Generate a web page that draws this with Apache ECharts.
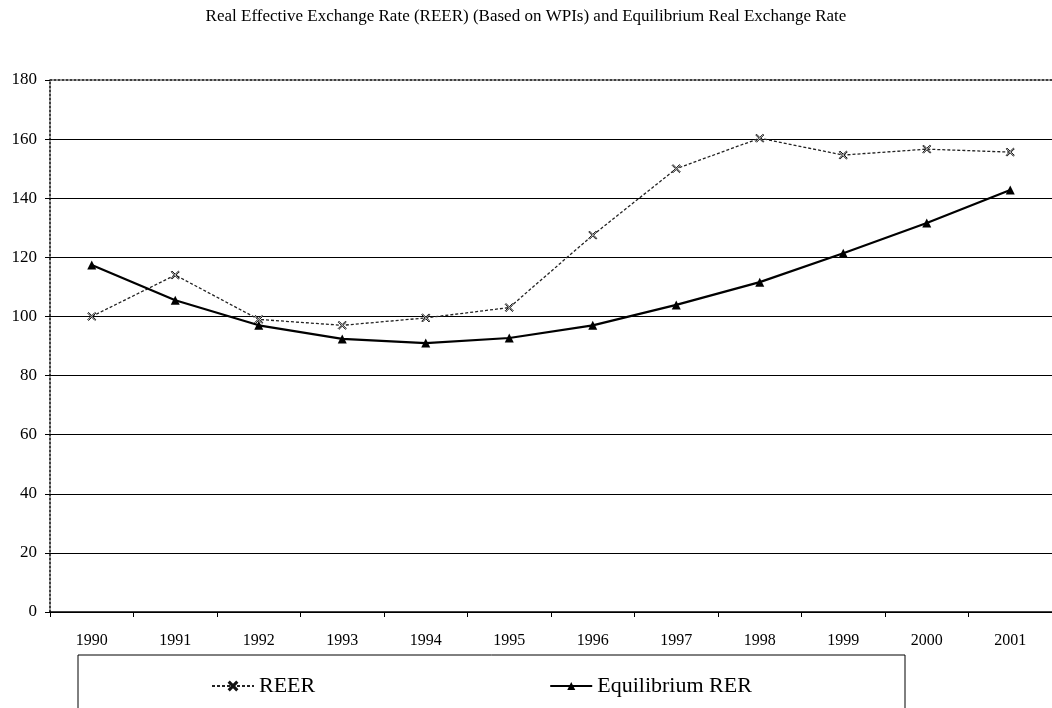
<!DOCTYPE html>
<html>
<head>
<meta charset="utf-8">
<script src="https://cdn.jsdelivr.net/npm/echarts@6/dist/echarts.min.js"></script>
<style>
html,body{margin:0;padding:0;background:#fff;}
#chart{width:1052px;height:708px;}
</style>
</head>
<body>
<div id="chart"></div>
<script>
const titleText = 'Real Effective Exchange Rate (REER) (Based on WPIs) and Equilibrium Real Exchange Rate';
const years = ['1990','1991','1992','1993','1994','1995','1996','1997','1998','1999','2000','2001'];
const reer = [100, 114, 99, 97, 99.5, 103, 127.5, 150, 160.3, 154.6, 156.6, 155.6];
const equilibriumRer = [117.4, 105.5, 97, 92.4, 91, 92.7, 97, 103.9, 111.6, 121.4, 131.6, 142.8];
const seriesNames = ['REER', 'Equilibrium RER'];

const serif = '"Liberation Serif", "DejaVu Serif", serif';
const chart = echarts.init(document.getElementById('chart'), null, {renderer: 'canvas'});
const xShape = 'path://M0,1L1,0L5,4L9,0L10,1L6,5L10,9L9,10L5,6L1,10L0,9L4,5Z';

chart.setOption({
  animation: false,
  backgroundColor: '#fff',
  title: {
    text: titleText,
    left: 'center',
    top: 3,
    textStyle: {fontFamily: serif, fontSize: 17, fontWeight: 'normal', color: '#000'}
  },
  graphic: [{
    type: 'rect',
    shape: {x: 78, y: 655, width: 827, height: 70},
    style: {fill: 'none', stroke: '#000', lineWidth: 1},
    silent: true
  }],
  legend: {
    left: 206,
    top: 670,
    itemWidth: 42,
    itemHeight: 10,
    itemGap: 234,
    textStyle: {fontFamily: serif, fontSize: 22, color: '#000'},
    data: seriesNames
  },
  grid: {left: 50, right: -10, top: 80, bottom: 96},
  xAxis: [{
    type: 'category',
    data: years,
    boundaryGap: true,
    axisLine: {lineStyle: {color: '#000', width: 1.5}},
    axisTick: {show: true, length: 5, lineStyle: {color: '#000'}},
    axisLabel: {fontFamily: serif, fontSize: 16, color: '#000', margin: 21}
  }, {
    type: 'category',
    data: years,
    position: 'top',
    axisLine: {lineStyle: {color: '#000', width: 1.5, type: [2, 2]}},
    axisTick: {show: false},
    axisLabel: {show: false}
  }],
  yAxis: {
    type: 'value',
    min: 0,
    max: 180,
    interval: 20,
    axisLine: {show: true, lineStyle: {color: '#000', width: 1.5, type: [2, 2]}},
    axisTick: {show: true, length: 5, lineStyle: {color: '#000'}},
    axisLabel: {fontFamily: serif, fontSize: 17, color: '#000', margin: 13},
    splitLine: {show: true, lineStyle: {color: ['#000','#000','#000','#000','#000','#000','#000','#000','#000','transparent'], width: 1}}
  },
  series: [{
    name: seriesNames[0],
    type: 'line',
    data: reer,
    symbol: xShape,
    symbolSize: 8,
    itemStyle: {color: '#fff', borderColor: '#111', borderWidth: 1},
    lineStyle: {color: '#222', width: 1.3, type: [3, 2]},
    z: 3
  }, {
    name: seriesNames[1],
    type: 'line',
    data: equilibriumRer,
    symbol: 'triangle',
    symbolSize: 9,
    itemStyle: {color: '#000'},
    lineStyle: {color: '#000', width: 2.2},
    z: 4
  }]
});
</script>
</body>
</html>
